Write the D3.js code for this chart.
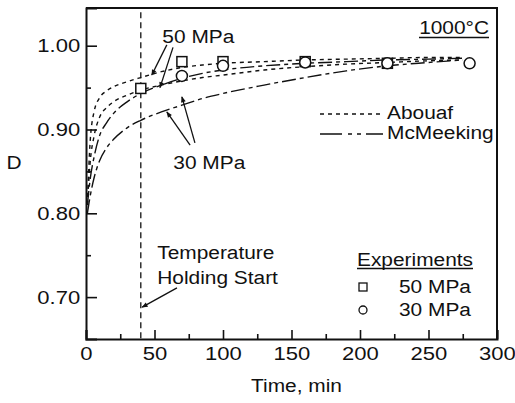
<!DOCTYPE html>
<html>
<head>
<meta charset="utf-8">
<script src="https://cdn.jsdelivr.net/npm/d3@7"></script>
<style>
  body { margin: 0; background: #fff; }
  svg text { font-family: "Liberation Sans", Arial, Helvetica, sans-serif; fill: #111; }
</style>
</head>
<body>
<div class="chart"></div>
<script>
// model curves (time in min)
var time = [1, 3, 6, 10, 15, 20, 30, 40, 55, 70, 85, 100, 130, 160, 190, 220, 250, 275];
var abouaf50 = [0.81, 0.885, 0.922, 0.938, 0.946, 0.951, 0.957, 0.962, 0.969, 0.974, 0.977, 0.979, 0.981, 0.983, 0.984, 0.985, 0.986, 0.986];
var abouaf30 = [0.81, 0.86, 0.893, 0.915, 0.926, 0.933, 0.941, 0.947, 0.953, 0.958, 0.962, 0.965, 0.971, 0.975, 0.978, 0.980, 0.982, 0.983];
var mcmeeking50 = [0.81, 0.84, 0.868, 0.893, 0.908, 0.919, 0.933, 0.943, 0.953, 0.961, 0.967, 0.971, 0.976, 0.979, 0.981, 0.983, 0.984, 0.985];
var mcmeeking30 = [0.80, 0.82, 0.843, 0.863, 0.878, 0.888, 0.902, 0.911, 0.921, 0.929, 0.937, 0.943, 0.953, 0.962, 0.970, 0.976, 0.980, 0.983];

// experiments
var exp50Time = [40, 70, 100, 160, 220];
var exp50D = [0.949, 0.981, 0.981, 0.981, 0.979];
var exp30Time = [70, 100, 160, 220, 280];
var exp30D = [0.964, 0.976, 0.980, 0.979, 0.979];

var holdStart = 40;

var xMajor = [0, 50, 100, 150, 200, 250, 300];
var xMinor = [25, 75, 125, 175, 225, 275];
var yMajor = [0.70, 0.80, 0.90, 1.00];
var yMinor = [0.75, 0.85, 0.95];

var W = 515, H = 403;
var margin = { top: 8, right: 18, bottom: 64, left: 86 };
var SX = 1.16; // the scanned lettering is wide

var x = d3.scaleLinear().domain([0, 300]).range([margin.left, W - margin.right]);
var y = d3.scaleLinear().domain([0.65, 1.045]).range([H - margin.bottom, margin.top]);

var svg = d3.select('.chart').append('svg')
    .attr('width', W).attr('height', H);

// text helper: place at px,py and stretch horizontally
function label(parent, px, py, str, anchor, size) {
  return parent.append('text')
      .attr('transform', 'translate(' + px + ',' + py + ') scale(' + SX + ',1)')
      .attr('text-anchor', anchor || 'start')
      .attr('dominant-baseline', 'central')
      .style('font-size', (size || 18) + 'px')
      .text(str);
}

var defs = svg.append('defs');
defs.append('marker')
    .attr('id', 'arrow')
    .attr('viewBox', '0 0 10 10')
    .attr('refX', 9).attr('refY', 5)
    .attr('markerWidth', 9).attr('markerHeight', 6)
    .attr('markerUnits', 'userSpaceOnUse')
    .attr('orient', 'auto')
  .append('path')
    .attr('d', 'M0,1 L10,5 L0,9 Z')
    .attr('fill', '#111');

// frame (top + right)
svg.append('path')
    .attr('d', 'M' + x(0) + ',' + y(1.045) + 'H' + x(300) + 'V' + y(0.65))
    .attr('fill', 'none').attr('stroke', '#111').attr('stroke-width', 2);

// axes
function styleAxis(g) {
  g.select('.domain').attr('stroke', '#111').attr('stroke-width', 2);
  g.selectAll('.tick line').attr('stroke', '#111').attr('stroke-width', 1.6);
  g.selectAll('.tick text')
      .style('font-size', '19px').attr('fill', '#111')
      .attr('transform', 'scale(' + SX + ',1)');
}

var xAxis = svg.append('g')
    .attr('transform', 'translate(0,' + y(0.65) + ')')
    .call(d3.axisBottom(x).tickValues(xMajor).tickSize(-9).tickPadding(8).tickFormat(d3.format('d')))
    .call(styleAxis);
xAxis.append('g')
    .call(d3.axisBottom(x).tickValues(xMinor).tickSize(-5).tickFormat(''))
    .call(function(g){ g.select('.domain').remove(); g.selectAll('line').attr('stroke', '#111').attr('stroke-width', 1.6); });

var yAxis = svg.append('g')
    .attr('transform', 'translate(' + x(0) + ',0)')
    .call(d3.axisLeft(y).tickValues(yMajor).tickSize(-11).tickPadding(5).tickFormat(d3.format('.2f')))
    .call(styleAxis);
yAxis.append('g')
    .call(d3.axisLeft(y).tickValues(yMinor).tickSize(-5).tickFormat(''))
    .call(function(g){ g.select('.domain').remove(); g.selectAll('line').attr('stroke', '#111').attr('stroke-width', 1.6); });

// axis titles
label(svg, (x(0) + x(300)) / 2 + 5, 386, 'Time, min', 'middle', 18);
label(svg, 14, y(0.86), 'D', 'middle', 18);

// temperature holding start line
svg.append('line')
    .attr('x1', x(holdStart)).attr('x2', x(holdStart))
    .attr('y1', y(1.04)).attr('y2', y(0.65))
    .attr('stroke', '#111').attr('stroke-width', 1.3)
    .attr('stroke-dasharray', '6,4');

// model curves
var abouafDash = '4,4';
var mcmeekingDash = '14,4,4,4';

var curves = [
  { values: abouaf50, dash: abouafDash },
  { values: abouaf30, dash: abouafDash },
  { values: mcmeeking50, dash: mcmeekingDash },
  { values: mcmeeking30, dash: mcmeekingDash }
];

var line = d3.line()
    .x(function(d){ return x(d[0]); })
    .y(function(d){ return y(d[1]); })
    .curve(d3.curveMonotoneX);

svg.selectAll('.curve')
    .data(curves)
  .enter().append('path')
    .attr('class', 'curve')
    .attr('d', function(c){ return line(time.map(function(t, i){ return [t, c.values[i]]; })); })
    .attr('fill', 'none')
    .attr('stroke', '#111')
    .attr('stroke-width', 1.4)
    .attr('stroke-dasharray', function(c){ return c.dash; });

// experimental points
var sq = 10;
svg.selectAll('.sq')
    .data(exp50Time)
  .enter().append('rect')
    .attr('class', 'sq')
    .attr('x', function(d){ return x(d) - sq / 2; })
    .attr('y', function(d, i){ return y(exp50D[i]) - sq / 2; })
    .attr('width', sq).attr('height', sq)
    .attr('fill', '#fff').attr('stroke', '#111').attr('stroke-width', 1.5);

svg.selectAll('.circ')
    .data(exp30Time)
  .enter().append('circle')
    .attr('class', 'circ')
    .attr('cx', function(d){ return x(d); })
    .attr('cy', function(d, i){ return y(exp30D[i]); })
    .attr('r', 5.5)
    .attr('fill', '#fff').attr('stroke', '#111').attr('stroke-width', 1.5);

// annotations
var arrows = [
  [[59, 1.001], [48, 0.965]],
  [[63.5, 0.998], [54, 0.950]],
  [[76, 0.8815], [59, 0.921]],
  [[79.5, 0.884], [70, 0.939]],
  [[66.4, 0.711], [41, 0.688]]
];
svg.selectAll('.arrow')
    .data(arrows)
  .enter().append('line')
    .attr('class', 'arrow')
    .attr('x1', function(d){ return x(d[0][0]); })
    .attr('y1', function(d){ return y(d[0][1]); })
    .attr('x2', function(d){ return x(d[1][0]); })
    .attr('y2', function(d){ return y(d[1][1]); })
    .attr('stroke', '#111').attr('stroke-width', 1.3)
    .attr('marker-end', 'url(#arrow)');

var notes = [
  { t: 82, d: 1.011, text: '50 MPa', anchor: 'middle' },
  { t: 90, d: 0.860, text: '30 MPa', anchor: 'middle' },
  { t: 52, d: 0.7526, text: 'Temperature', anchor: 'start' },
  { t: 52, d: 0.723, text: 'Holding Start', anchor: 'start' }
];
notes.forEach(function(d){
  label(svg, x(d.t), y(d.d), d.text, d.anchor, 18);
});

// 1000°C
label(svg, 489, 28, '1000°C', 'end', 18);
svg.append('line')
    .attr('x1', 419).attr('x2', 489).attr('y1', 37.5).attr('y2', 37.5)
    .attr('stroke', '#111').attr('stroke-width', 1.3);

// line legend
var lineLegend = svg.append('g').attr('transform', 'translate(320,114)');
[{ name: 'Abouaf', dash: abouafDash }, { name: 'McMeeking', dash: '22,6,4,5,4,5' }].forEach(function(d, i){
  var g = lineLegend.append('g').attr('transform', 'translate(0,' + i * 20 + ')');
  g.append('line')
      .attr('x1', 0).attr('x2', 63).attr('y1', 0).attr('y2', 0)
      .attr('stroke', '#111').attr('stroke-width', 1.4)
      .attr('stroke-dasharray', d.dash);
  label(g, 67, -1, d.name, 'start', 18);
});

// experiments legend
var expLegend = svg.append('g').attr('transform', 'translate(357,260)');
label(expLegend, 0, 0, 'Experiments', 'start', 18);
expLegend.append('line')
    .attr('x1', 0).attr('x2', 116).attr('y1', 8.5).attr('y2', 8.5)
    .attr('stroke', '#111').attr('stroke-width', 1.3);
expLegend.append('rect')
    .attr('x', 2).attr('y', 27 - 4).attr('width', 8).attr('height', 8)
    .attr('fill', '#fff').attr('stroke', '#111').attr('stroke-width', 1.3);
expLegend.append('circle')
    .attr('cx', 6).attr('cy', 50).attr('r', 4)
    .attr('fill', '#fff').attr('stroke', '#111').attr('stroke-width', 1.3);
['50 MPa', '30 MPa'].forEach(function(s, i){
  label(expLegend, 42, 27 + i * 23, s, 'start', 18);
});
</script>
</body>
</html>
